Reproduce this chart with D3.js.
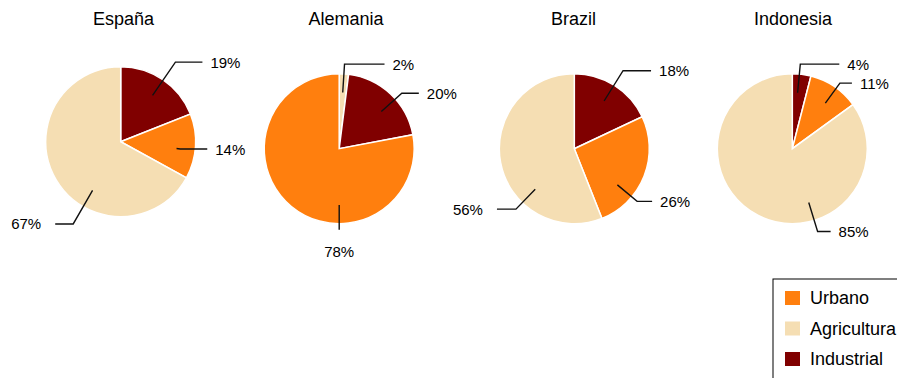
<!DOCTYPE html>
<html>
<head>
<meta charset="utf-8">
<script src="https://cdn.jsdelivr.net/npm/d3@7"></script>
<style>
  body { margin: 0; background: #fff; overflow: hidden; }
  svg { font-family: "Liberation Sans", Arial, sans-serif; }
</style>
</head>
<body>
<div id="chart"></div>
<script>
// data
var countries = ["España", "Alemania", "Brazil", "Indonesia"];
var categories = ["Urbano", "Agricultura", "Industrial"];
var urbano = [14, 78, 26, 11];
var agricultura = [67, 2, 56, 85];
var industrial = [19, 20, 18, 4];
// order the slices are drawn in, clockwise from the top
var sliceOrder = [
  ["Industrial", "Urbano", "Agricultura"],
  ["Agricultura", "Industrial", "Urbano"],
  ["Industrial", "Urbano", "Agricultura"],
  ["Industrial", "Urbano", "Agricultura"]
];

// layout (kept apart from the values)
var width = 897, height = 378, radius = 75;
var centers = [[120.7, 141.7], [339.2, 148.7], [574.3, 148.7], [792.3, 148.7]];
var titleX = [123.5, 346, 573.5, 793];
// label leader lines: angle (deg), elbow radius, horizontal length
var labelSpec = [
  { Industrial: [34.5, 96.6, 27], Urbano: [97, 60, 27], Agricultura: [210, 95, 18] },
  { Agricultura: [3.6, 84.7, 40], Industrial: [48.5, 83.6, 17], Urbano: [180, 81, 0] },
  { Industrial: [32, 92, 28], Urbano: [130, 82, 15], Agricultura: [224, 84, 19] },
  { Industrial: [5.4, 85, 39], Urbano: [36, 81, 12], Agricultura: [163, 86.6, 13] }
];

var color = d3.scaleOrdinal()
  .domain(categories)
  .range(["#ff7f0e", "#f5deb3", "#800000"]);

var svg = d3.select("#chart").append("svg")
  .attr("width", width)
  .attr("height", height);

var arc = d3.arc().innerRadius(0).outerRadius(radius);

countries.forEach(function(country, i) {
  var vals = { Urbano: urbano[i], Agricultura: agricultura[i], Industrial: industrial[i] };
  var rows = sliceOrder[i].map(function(c) { return { cat: c, value: vals[c] }; });
  var pie = d3.pie().sort(null).value(function(d) { return d.value; });
  var cx = centers[i][0], cy = centers[i][1];

  svg.append("text")
    .attr("x", titleX[i])
    .attr("y", 25)
    .attr("text-anchor", "middle")
    .attr("font-size", 18)
    .attr("fill", "#000")
    .text(country);

  var g = svg.append("g").attr("transform", "translate(" + cx + "," + cy + ")");

  g.selectAll("path.slice")
    .data(pie(rows))
    .enter().append("path")
    .attr("class", "slice")
    .attr("d", arc)
    .attr("fill", function(d) { return color(d.data.cat); })
    .attr("stroke", "#fff")
    .attr("stroke-width", 1.5);

  // leader lines + percentage text
  rows.forEach(function(r) {
    var s = labelSpec[i][r.cat];
    var a = s[0] * Math.PI / 180, e = s[1], h = s[2];
    var inner = Math.min(radius * 0.75, e);
    var p0 = [Math.sin(a) * inner, -Math.cos(a) * inner];
    var p1 = [Math.sin(a) * e, -Math.cos(a) * e];
    var side = p1[0] >= -1 ? 1 : -1;
    var p2 = [p1[0] + side * h, p1[1]];
    if (h === 0) p2 = p1;

    g.append("path")
      .attr("d", d3.line()([p0, p1, p2]))
      .attr("fill", "none")
      .attr("stroke", "#111")
      .attr("stroke-width", 1.4);

    var t = g.append("text")
      .attr("font-size", 15)
      .attr("fill", "#000")
      .text(r.value + "%");
    if (h === 0) {
      t.attr("x", p2[0]).attr("y", p2[1] + 22)
        .attr("text-anchor", "middle").attr("dominant-baseline", "central");
    } else {
      t.attr("x", p2[0] + (side > 0 ? 8 : -14)).attr("y", p2[1])
        .attr("text-anchor", side > 0 ? "start" : "end")
        .attr("dominant-baseline", "central");
    }
  });
});

// legend (runs off the bottom right edge like the original)
var legend = svg.append("g").attr("transform", "translate(773,279)");
legend.append("rect")
  .attr("width", 160).attr("height", 120)
  .attr("fill", "#fff").attr("stroke", "#000").attr("stroke-width", 1);

var legendY = d3.scalePoint().domain(categories).range([19, 80]);

legend.selectAll("rect.swatch")
  .data(categories)
  .enter().append("rect")
  .attr("class", "swatch")
  .attr("x", 12)
  .attr("y", function(d) { return legendY(d) - 7; })
  .attr("width", 15).attr("height", 14)
  .attr("fill", function(d) { return color(d); });

legend.selectAll("text")
  .data(categories)
  .enter().append("text")
  .attr("x", 37)
  .attr("y", function(d) { return legendY(d); })
  .attr("dominant-baseline", "central")
  .attr("font-size", 18)
  .attr("fill", "#000")
  .text(function(d) { return d; });
</script>
</body>
</html>
